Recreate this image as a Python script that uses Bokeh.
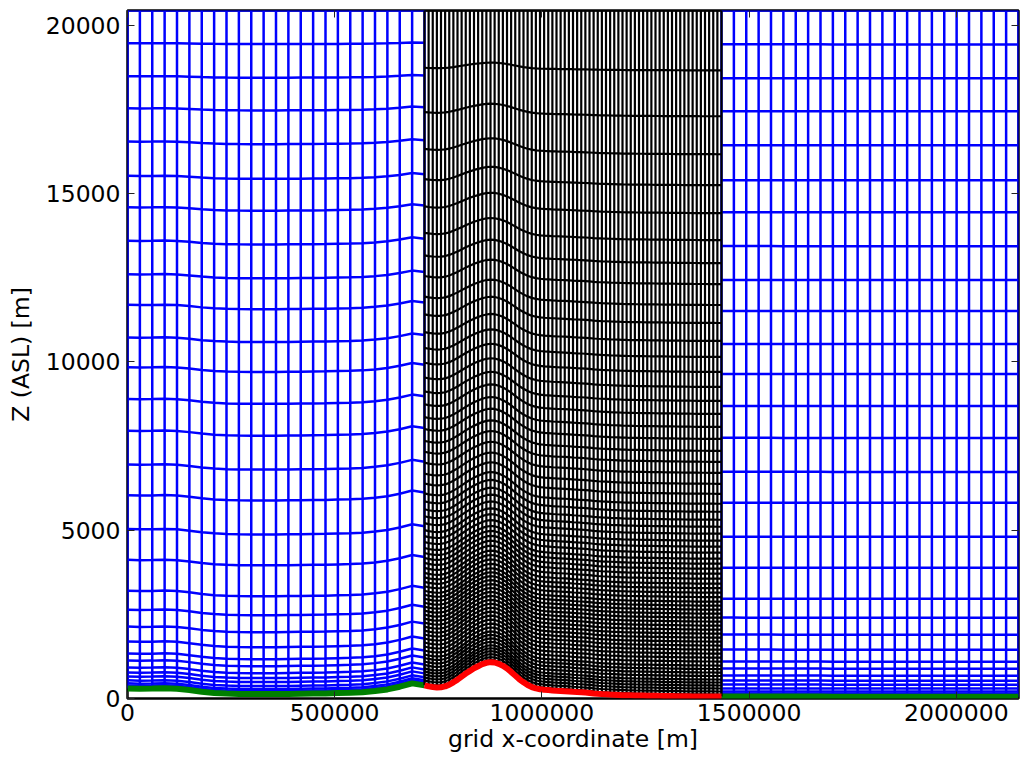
import numpy as np
from bokeh.plotting import figure
from bokeh.models import Range1d, LinearAxis, FixedTicker, BasicTickFormatter
from bokeh.embed import file_html
from bokeh.resources import INLINE

# ---------------- data ----------------
domain_length = 2150000          # m, extent of coarse grid
coarse_cells = 72                # coarse cells across the domain
nest_first_cell = 24             # nest starts at this coarse column
nest_last_cell = 48              # nest ends at this coarse column
nest_ratio = 3                   # fine cells per coarse cell
model_top = 20440                # m
reference_surface = 58           # m, terrain where level heights were read

# coarse terrain (m) west of the nest, columns 0..24
coarse_terrain_west = [300, 290, 295, 305, 290, 250, 200, 165, 145, 135, 130, 130, 130,
                       135, 140, 145, 150, 160, 170, 185, 220, 270, 350, 450, 390]
# coarse terrain (m) east of the nest, columns 48..72
coarse_terrain_east = [58, 58, 57, 57, 57, 56, 56, 56, 56, 55, 55, 55, 55,
                       55, 55, 55, 55, 55, 55, 55, 55, 55, 55, 55, 55]
# nest terrain (m), fine columns 0..72
nest_terrain = [390, 360, 340, 330, 335, 360, 410, 480, 560, 650, 740, 820, 900, 960,
                1020, 1060, 1080, 1070, 1030, 970, 890, 790, 680, 570, 480, 400, 340,
                300, 275, 260, 250, 240, 232, 225, 218, 210, 200, 192, 185, 175, 165,
                150, 140, 132, 125, 118, 112, 106, 100, 96, 93, 90, 88, 86, 84, 82, 80,
                78, 76, 74, 72, 70, 68, 66, 64, 62, 61, 60, 60, 59, 59, 58, 58]

# coarse model level heights (m) over flat terrain
coarse_levels = [148, 208, 297, 415, 534, 682, 890, 1098, 1454, 1899, 2403, 2967, 3887,
                 4806, 5815, 6735, 7744, 8693, 9643, 10533, 11512, 12432, 13441, 14449,
                 15399, 16437, 17446, 18425, 19434, 20440]
# nest model level heights (m) over flat terrain
nest_levels = [119, 208, 297, 386, 475, 564, 668, 771, 875, 979, 1098, 1216, 1335, 1454,
               1573, 1691, 1810, 1929, 2047, 2166, 2285, 2403, 2522, 2641, 2759, 2878,
               3012, 3145, 3279, 3412, 3560, 3709, 3857, 4005, 4154, 4332, 4510, 4688,
               4896, 5103, 5311, 5548, 5786, 6082, 6379, 6705, 7032, 7358, 7714, 8070,
               8456, 8842, 9257, 9702, 10147, 10622, 11156, 11690, 12313, 12936, 13619,
               14420, 15250, 16170, 17298, 18662, 20440]

x_ticks = [0, 500000, 1000000, 1500000, 2000000]
y_ticks = [0, 5000, 10000, 15000, 20000]

# ---------------- terrain-following (hydrostatic eta) levels ----------------
H = 7000.0
def pres(z):
    return np.exp(-np.asarray(z, dtype=float) / H)

pt = pres(model_top)
p_ref = pres(reference_surface)

def level_heights(levels, terrain):
    eta = (pres(levels) - pt) / (p_ref - pt)
    ps = pres(terrain)
    pk = pt + eta[:, None] * (ps[None, :] - pt)
    return -H * np.log(pk)

dx = domain_length / coarse_cells
x_west = np.arange(0, nest_first_cell + 1) * dx
x_east = np.arange(nest_last_cell, coarse_cells + 1) * dx
x_nest = nest_first_cell * dx + np.arange(0, (nest_last_cell - nest_first_cell) * nest_ratio + 1) * dx / nest_ratio

tw = np.array(coarse_terrain_west, float)
te = np.array(coarse_terrain_east, float)
tn = np.array(nest_terrain, float)

zw = level_heights(coarse_levels, tw)
ze = level_heights(coarse_levels, te)
zn = level_heights(nest_levels, tn)

# ---------------- figure ----------------
p = figure(width=1022, height=759, output_backend="svg", toolbar_location=None,
           x_range=Range1d(0, domain_length), y_range=Range1d(0, model_top),
           min_border_left=127, min_border_right=4, min_border_top=10, min_border_bottom=61)
p.xgrid.grid_line_color = None
p.ygrid.grid_line_color = None
p.outline_line_color = "black"
p.outline_line_width = 2.5
p.outline_line_alpha = 1.0
p.background_fill_color = "white"
p.border_fill_color = "white"

# coarse grid (outside nest)
bxs, bys = [], []
for xs_, ts_, zz in ((x_west, tw, zw), (x_east, te, ze)):
    for i in range(len(xs_)):
        bxs.append([xs_[i], xs_[i]])
        bys.append([ts_[i], model_top])
    for k in range(zz.shape[0]):
        bxs.append(list(xs_))
        bys.append(list(zz[k]))
p.multi_line(bxs, bys, line_color="#0000ff", line_width=2.5)

# coarse terrain
p.line(x_west, tw, line_color="#008000", line_width=6)
p.line(x_east, te, line_color="#008000", line_width=6)

# nest grid
nxs, nys = [], []
for i in range(len(x_nest)):
    nxs.append([x_nest[i], x_nest[i]])
    nys.append([tn[i], model_top])
for k in range(zn.shape[0]):
    nxs.append(list(x_nest))
    nys.append(list(zn[k]))
p.multi_line(nxs, nys, line_color="black", line_width=2.2)

# nest terrain
p.line(x_nest, tn, line_color="#ff0000", line_width=6)

FONT = "DejaVu Sans"
for ax, ticks in ((p.xaxis[0], x_ticks), (p.yaxis[0], y_ticks)):
    ax.ticker = FixedTicker(ticks=ticks)
    ax.formatter = BasicTickFormatter(use_scientific=False)
    ax.major_label_text_font = FONT
    ax.major_label_text_font_size = "23.5px"
    ax.major_label_text_color = "black"
    ax.axis_label_text_font = FONT
    ax.axis_label_text_font_size = "23.5px"
    ax.axis_label_text_font_style = "normal"
    ax.axis_label_text_color = "black"
    ax.axis_line_color = None
    ax.major_tick_in = 7
    ax.major_tick_out = 0
    ax.major_tick_line_color = "#222222"
    ax.minor_tick_line_color = None

p.xaxis.axis_label = "grid x-coordinate [m]"
p.yaxis.axis_label = "Z (ASL) [m]"
p.xaxis.major_label_standoff = 5
p.xaxis.axis_label_standoff = 1
p.yaxis.major_label_standoff = 7
p.yaxis.axis_label_standoff = 8

for loc, ticks in (("above", x_ticks), ("right", y_ticks)):
    ax = LinearAxis(ticker=FixedTicker(ticks=ticks), major_label_text_font_size="1px",
                    major_label_text_color=None, major_label_text_alpha=0,
                    major_label_standoff=0, major_tick_in=7, major_tick_out=0,
                    major_tick_line_color="#222222", minor_tick_line_color=None,
                    axis_line_color=None)
    p.add_layout(ax, loc)

open("out.html", "w").write(file_html(p, INLINE))
